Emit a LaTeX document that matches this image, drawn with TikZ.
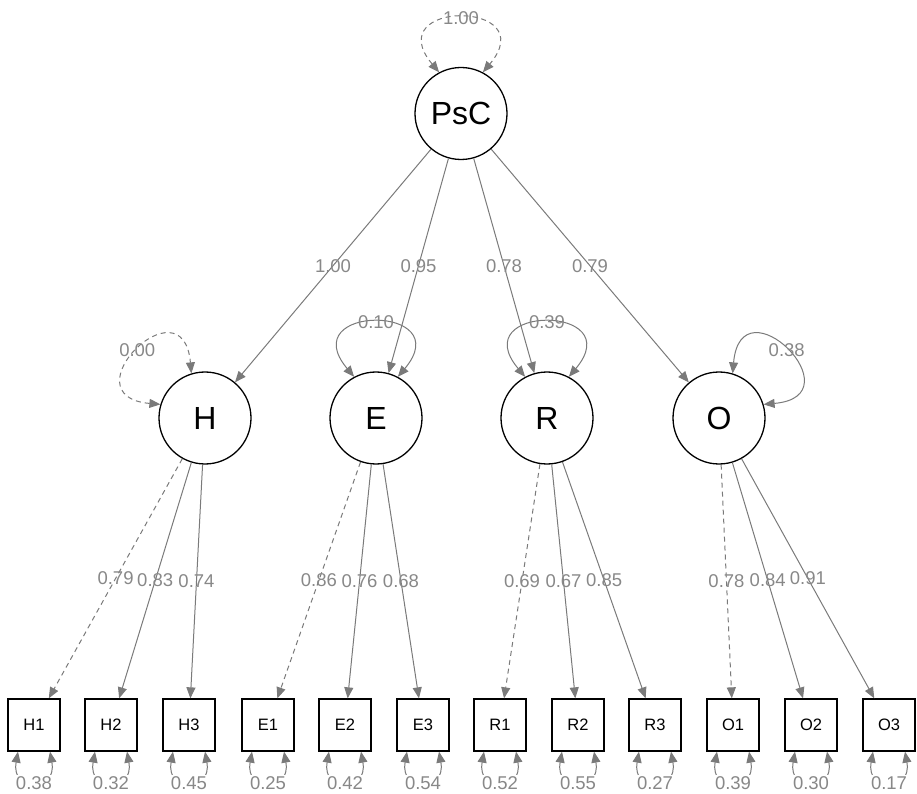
\documentclass[tikz,border=0pt]{standalone}
\usepackage{fontspec}
\setmainfont{Liberation Sans}
\usetikzlibrary{arrows.meta}
\definecolor{edgegray}{HTML}{7A7A7A}
\definecolor{lblgray}{HTML}{888888}
\begin{document}
\begin{tikzpicture}[x=1pt,y=1pt,
  latent/.style={circle, draw=black, line width=1.3pt, minimum size=92pt, inner sep=0pt, font=\fontsize{32}{34}\selectfont},
  manifest/.style={rectangle, draw=black, line width=1.3pt, minimum size=52pt, inner sep=0pt, font=\fontsize{16.5}{18}\selectfont},
  pathedge/.style={draw=edgegray, line width=1pt, -{Triangle[length=11pt,width=9pt]}},
  fixededge/.style={pathedge, dash pattern=on 5pt off 4pt},
  varloop/.style={draw=edgegray, line width=1pt, {Triangle[length=11pt,width=9pt]}-{Triangle[length=11pt,width=9pt]}},
  fixedloop/.style={varloop, dash pattern=on 5pt off 4pt},
  lbl/.style={text=lblgray, font=\fontsize{18.5}{20}\selectfont, inner sep=1pt},
  reslbl/.style={lbl, fill=white}
]
\useasboundingbox (0,0) rectangle (917,793);

% latent variables
\node[latent] (PsC) at (461,679.5) {PsC};
\node[latent] (H) at (205,375) {H};
\node[latent] (E) at (376,375) {E};
\node[latent] (R) at (547,375) {R};
\node[latent] (O) at (719,375) {O};

% indicators
\node[manifest] (H1) at (34,68) {H1};
\node[manifest] (H2) at (111,68) {H2};
\node[manifest] (H3) at (189,68) {H3};
\node[manifest] (E1) at (268,68) {E1};
\node[manifest] (E2) at (345,68) {E2};
\node[manifest] (E3) at (423,68) {E3};
\node[manifest] (R1) at (500,68) {R1};
\node[manifest] (R2) at (578,68) {R2};
\node[manifest] (R3) at (655,68) {R3};
\node[manifest] (O1) at (733,68) {O1};
\node[manifest] (O2) at (811,68) {O2};
\node[manifest] (O3) at (889,68) {O3};

% second-order loadings
\draw[pathedge] (PsC) -- node[lbl]{1.00} (H);
\draw[pathedge] (PsC) -- node[lbl]{0.95} (E);
\draw[pathedge] (PsC) -- node[lbl]{0.78} (R);
\draw[pathedge] (PsC) -- node[lbl]{0.79} (O);

% first-order loadings
\draw[fixededge] (H) -- node[lbl]{0.79} (H1);
\draw[pathedge] (H) -- node[lbl]{0.83} (H2);
\draw[pathedge] (H) -- node[lbl]{0.74} (H3);
\draw[fixededge] (E) -- node[lbl]{0.86} (E1);
\draw[pathedge] (E) -- node[lbl]{0.76} (E2);
\draw[pathedge] (E) -- node[lbl]{0.68} (E3);
\draw[fixededge] (R) -- node[lbl]{0.69} (R1);
\draw[pathedge] (R) -- node[lbl]{0.67} (R2);
\draw[pathedge] (R) -- node[lbl]{0.85} (R3);
\draw[fixededge] (O) -- node[lbl]{0.78} (O1);
\draw[pathedge] (O) -- node[lbl]{0.84} (O2);
\draw[pathedge] (O) -- node[lbl]{0.91} (O3);

% latent variances
\draw[fixedloop] (PsC.118) .. controls +(130:95) and +(50:95) .. (PsC.62) node[lbl, midway]{1.00};
\draw[fixedloop] (H.163) .. controls +(175:95) and +(95:95) .. (H.107) node[lbl, midway]{0.00};
\draw[varloop] (E.118) .. controls +(130:95) and +(50:95) .. (E.62) node[lbl, midway]{0.10};
\draw[varloop] (R.118) .. controls +(130:95) and +(50:95) .. (R.62) node[lbl, midway]{0.39};
\draw[varloop] (O.73) .. controls +(85:95) and +(5:95) .. (O.17) node[lbl, midway]{0.38};

% residual variances
\foreach \n/\v in {H1/0.38, H2/0.32, H3/0.45, E1/0.25, E2/0.42, E3/0.54, R1/0.52, R2/0.55, R3/0.27, O1/0.39, O2/0.30, O3/0.17}{
  \draw[varloop] ([xshift=-16pt]\n.south) .. controls +(-100:42) and +(-80:42) .. ([xshift=16pt]\n.south) node[reslbl, midway]{\v};
}
\end{tikzpicture}
\end{document}
